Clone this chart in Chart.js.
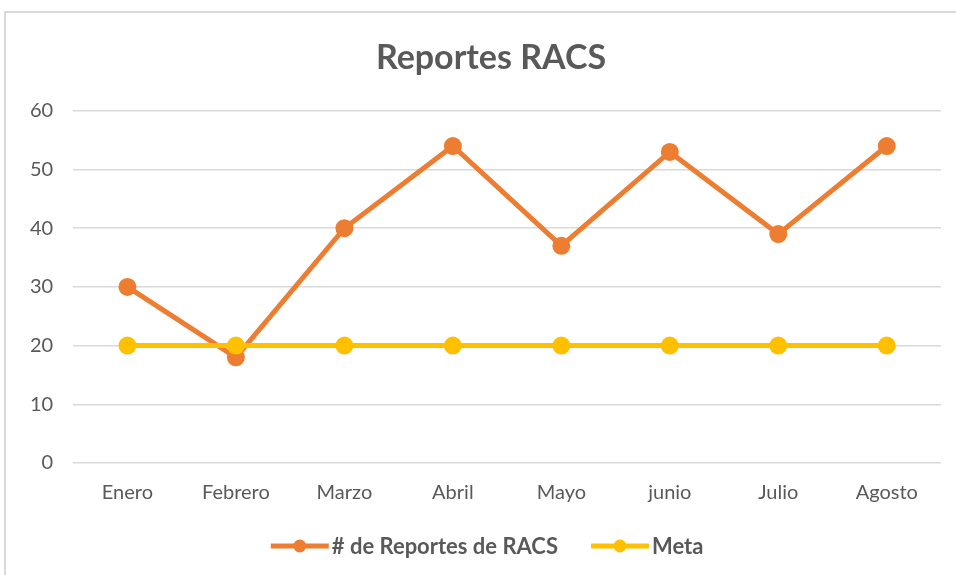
<!DOCTYPE html>
<html>
<head>
<meta charset="utf-8">
<script src="https://cdn.jsdelivr.net/npm/chart.js@4"></script>
<style>
html,body{margin:0;padding:0;background:#fff;overflow:hidden;}
#frame{position:absolute;left:4px;top:11px;width:980px;height:600px;border:2px solid #d9d9d9;box-sizing:border-box;}
#wrap{position:absolute;left:0;top:0;width:956px;height:575px;overflow:hidden;}
</style>
</head>
<body>
<div id="frame"></div>
<div id="wrap"><canvas id="c" width="980" height="575"></canvas></div>
<script>
const categories = ["Enero","Febrero","Marzo","Abril","Mayo","junio","Julio","Agosto"];
const reportes = [30,18,40,54,37,53,39,54];
const meta = [20,20,20,20,20,20,20,20];
const seriesNames = ["# de Reportes de RACS","Meta"];
const titleText = "Reportes RACS";

const FONT = "Lato, 'Open Sans', sans-serif";
const TXT = "#595959";
const LEG_FS = 22;

new Chart(document.getElementById('c'), {
  type: 'line',
  data: {
    labels: categories,
    datasets: [
      {label: seriesNames[0], data: reportes, borderColor:'#ED7D31', backgroundColor:'#ED7D31',
       borderWidth:5, pointRadius:6.5, pointHoverRadius:6.5, tension:0, order:2},
      {label: seriesNames[1], data: meta, borderColor:'#FFC000', backgroundColor:'#FFC000',
       borderWidth:5, pointRadius:6.5, pointHoverRadius:6.5, tension:0, order:1}
    ]
  },
  options: {
    responsive:false,
    animation:false,
    layout:{padding:{left:10, right:8, top:30, bottom:60}},
    plugins:{
      title:{display:true, text:titleText, color:TXT, font:{family:FONT, size:34, weight:'bold'}, padding:{top:8, bottom:32}},
      legend:{display:false},
      tooltip:{enabled:false}
    },
    scales:{
      x:{offset:true, grid:{display:false}, border:{display:false},
         ticks:{color:TXT, font:{family:FONT, size:20}, padding:10}},
      y:{min:0, max:60, grid:{color:'#d9d9d9', lineWidth:1.5, drawTicks:false}, border:{display:false},
         ticks:{stepSize:10, color:TXT, font:{family:FONT, size:20}, padding:20}},
      yr:{position:'right', min:0, max:60, grid:{display:false}, border:{display:false}, ticks:{display:false},
         afterFit(s){ s.width = 31; }}
    }
  },
  plugins:[{
    id:'customLegend',
    afterDraw(chart){
      const ctx = chart.ctx;
      const ds = chart.data.datasets;
      ctx.save();
      ctx.font = 'bold ' + LEG_FS + 'px ' + FONT;
      const lineW = 58, gapT = 3, gapItem = 33;
      const widths = ds.map(d => lineW + gapT + ctx.measureText(d.label).width);
      const total = widths.reduce((a,b)=>a+b,0) + gapItem*(ds.length-1);
      const ca = chart.chartArea;
      let x = (ca.left + ca.right)/2 - 20 - total/2;
      const cy = 546;
      ds.forEach((d,i)=>{
        ctx.strokeStyle = d.borderColor; ctx.lineWidth = 5; ctx.lineCap='butt';
        ctx.beginPath(); ctx.moveTo(x, cy); ctx.lineTo(x+lineW, cy); ctx.stroke();
        ctx.fillStyle = d.borderColor;
        ctx.beginPath(); ctx.arc(x+lineW/2, cy, 6.5, 0, Math.PI*2); ctx.fill();
        ctx.fillStyle = TXT; ctx.textBaseline='middle'; ctx.textAlign='left';
        ctx.fillText(d.label, x+lineW+gapT, cy+1);
        x += widths[i] + gapItem;
      });
      ctx.restore();
    }
  }]
});
</script>
</body>
</html>
